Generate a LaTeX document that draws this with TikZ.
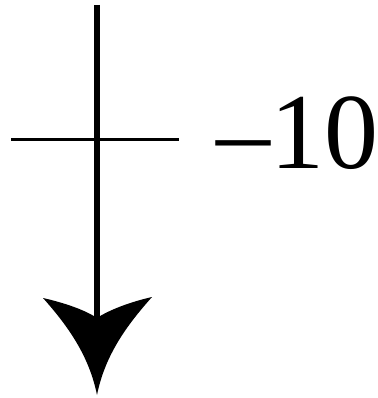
\documentclass[tikz,border=0pt]{standalone}
\usepackage{fontspec}
\setmainfont{Liberation Serif}
\begin{document}
\begin{tikzpicture}[x=1pt,y=-1pt,
  axisline/.style={line width=5.5pt},
  tickline/.style={line width=3pt},
  lbl/.style={inner sep=0pt,anchor=base west,font=\fontsize{108}{108}\selectfont}]
\useasboundingbox (0,0) rectangle (377,398);
\coordinate (top) at (97,5);
\coordinate (notch) at (97,318);
\coordinate (tip) at (97,395);
\coordinate (lw) at (43,298);
\coordinate (rw) at (152,297);
\coordinate (tl) at (11,140);
\coordinate (tr) at (179,140);
\draw[axisline] (top) -- (notch);
\draw[tickline] (tl) -- (tr);
\fill (lw) .. controls (65,303) and (85,310) .. (notch)
  .. controls (109,310) and (130,302) .. (rw)
  .. controls (127,325) and (105,355) .. (tip)
  .. controls (89,355) and (67,325) .. (lw) -- cycle;
\node[lbl] (val) at (216,168) {–10};
\end{tikzpicture}
\end{document}
